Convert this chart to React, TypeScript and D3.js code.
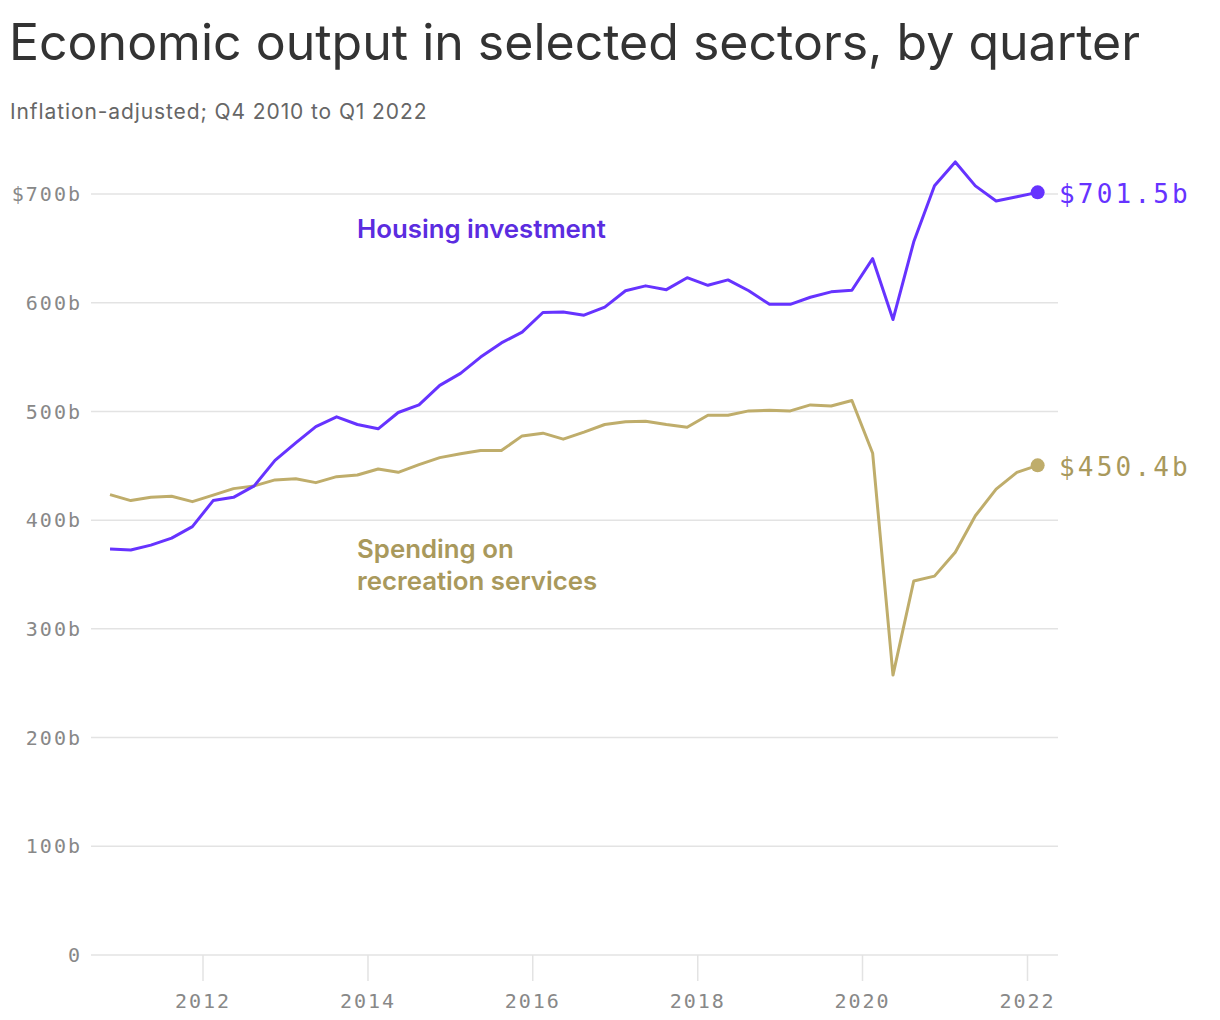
import React from "react";
import * as d3 from "d3";

const quarters: string[] = [
  "2010Q4",
  "2011Q1","2011Q2","2011Q3","2011Q4",
  "2012Q1","2012Q2","2012Q3","2012Q4",
  "2013Q1","2013Q2","2013Q3","2013Q4",
  "2014Q1","2014Q2","2014Q3","2014Q4",
  "2015Q1","2015Q2","2015Q3","2015Q4",
  "2016Q1","2016Q2","2016Q3","2016Q4",
  "2017Q1","2017Q2","2017Q3","2017Q4",
  "2018Q1","2018Q2","2018Q3","2018Q4",
  "2019Q1","2019Q2","2019Q3","2019Q4",
  "2020Q1","2020Q2","2020Q3","2020Q4",
  "2021Q1","2021Q2","2021Q3","2021Q4",
  "2022Q1",
];

const housing: number[] = [
  373.5, 372.5, 377, 383.5, 394, 418, 421, 431.5, 455, 471, 486, 495, 488, 484,
  499, 506, 524, 535, 550, 563, 573, 591, 591.5, 588.5, 596, 611, 615.5, 612,
  623, 616, 621, 611, 598.5, 598.5, 605, 610, 611.5, 640.5, 584.5, 656, 707.5,
  729.5, 707.5, 693.5, 697.5, 701.5,
];

const recreation: number[] = [
  423.5, 418, 421, 422, 417, 423, 429, 431.5, 437, 438, 434.5, 440, 441.5, 447,
  444, 451, 457.5, 461, 464, 464, 477.5, 480, 474.5, 481, 488, 490.5, 491, 488,
  485.5, 496.5, 496.5, 500.5, 501, 500.5, 506, 505, 510, 461.5, 257.5, 344,
  348.5, 370.5, 404, 428.5, 444, 450.4,
];

const yTicks: number[] = [0, 100, 200, 300, 400, 500, 600, 700];
const xTickYears: number[] = [2012, 2014, 2016, 2018, 2020, 2022];

const title = "Economic output in selected sectors, by quarter";
const subtitle = "Inflation-adjusted; Q4 2010 to Q1 2022";

const PURPLE = "#6633ff";
const PURPLE_TEXT = "#5b2ce0";
const GOLD = "#bfad6b";
const GOLD_TEXT = "#a9995c";
const MONO = "'DejaVu Sans Mono', 'Liberation Mono', monospace";
const SANS = "Inter, 'Noto Sans', sans-serif";

function quarterMid(q: string): Date {
  const year = +q.slice(0, 4);
  const qn = +q.slice(5);
  return new Date(year, (qn - 1) * 3 + 1, 15);
}

export default function App() {
  const W = 1220;
  const H = 1020;
  const gridLeft = 91;
  const gridRight = 1058;

  const x = d3
    .scaleTime()
    .domain([new Date(2012, 0, 1), new Date(2022, 0, 1)])
    .range([203, 1027.5]);
  const y = d3.scaleLinear().domain([0, 700]).range([955, 194]);

  const dates = quarters.map(quarterMid);
  const line = d3
    .line<number>()
    .x((_, i) => x(dates[i]))
    .y((d) => y(d));

  const lastI = quarters.length - 1;
  const fmtY = (v: number) => (v === 0 ? "0" : v === 700 ? `$${v}b` : `${v}b`);

  return (
    <svg
      width={W}
      height={H}
      style={{ position: "absolute", left: 0, top: 0, background: "#fff" }}
    >
      <text x={9} y={60} fontFamily={SANS} fontSize={50} fill="#333" fontWeight={400}>
        {title}
      </text>
      <text x={10} y={119} fontFamily={SANS} fontSize={21} letterSpacing={0.9} fill="#666">
        {subtitle}
      </text>

      {yTicks.map((t) => (
        <g key={t}>
          <line
            x1={gridLeft}
            x2={gridRight}
            y1={y(t)}
            y2={y(t)}
            stroke="#e3e3e3"
            strokeWidth={1.5}
          />
          <text
            x={82}
            y={y(t)}
            dy="0.36em"
            textAnchor="end"
            fontFamily={MONO}
            fontSize={20}
            letterSpacing={2}
            fill="#888"
          >
            {fmtY(t)}
          </text>
        </g>
      ))}

      {xTickYears.map((yr) => {
        const xx = x(new Date(yr, 0, 1));
        return (
          <g key={yr}>
            <line x1={xx} x2={xx} y1={y(0)} y2={y(0) + 26} stroke="#e3e3e3" strokeWidth={1.5} />
            <text
              x={xx}
              y={1008}
              textAnchor="middle"
              fontFamily={MONO}
              fontSize={20}
              letterSpacing={2}
              fill="#888"
            >
              {yr}
            </text>
          </g>
        );
      })}

      <path d={line(recreation) || ""} fill="none" stroke={GOLD} strokeWidth={3} strokeLinejoin="round" />
      <path d={line(housing) || ""} fill="none" stroke={PURPLE} strokeWidth={3} strokeLinejoin="round" />

      <circle cx={x(dates[lastI])} cy={y(housing[lastI])} r={7} fill={PURPLE} />
      <circle cx={x(dates[lastI])} cy={y(recreation[lastI])} r={7} fill={GOLD} />

      <text
        x={1059}
        y={y(housing[lastI]) + 11}
        fontFamily={MONO}
        fontSize={26}
        letterSpacing={3.2}
        fill={PURPLE}
      >
        {`$${housing[lastI].toFixed(1)}b`}
      </text>
      <text
        x={1059}
        y={y(recreation[lastI]) + 11}
        fontFamily={MONO}
        fontSize={26}
        letterSpacing={3.2}
        fill={GOLD_TEXT}
      >
        {`$${recreation[lastI].toFixed(1)}b`}
      </text>

      <text x={357} y={238} fontFamily={SANS} fontSize={25.8} fontWeight={600} fill={PURPLE_TEXT}>
        Housing investment
      </text>
      <text fontFamily={SANS} fontSize={25.8} fontWeight={600} fill={GOLD_TEXT}>
        <tspan x={357} y={558}>Spending on</tspan>
        <tspan x={357} y={590}>recreation services</tspan>
      </text>
    </svg>
  );
}
